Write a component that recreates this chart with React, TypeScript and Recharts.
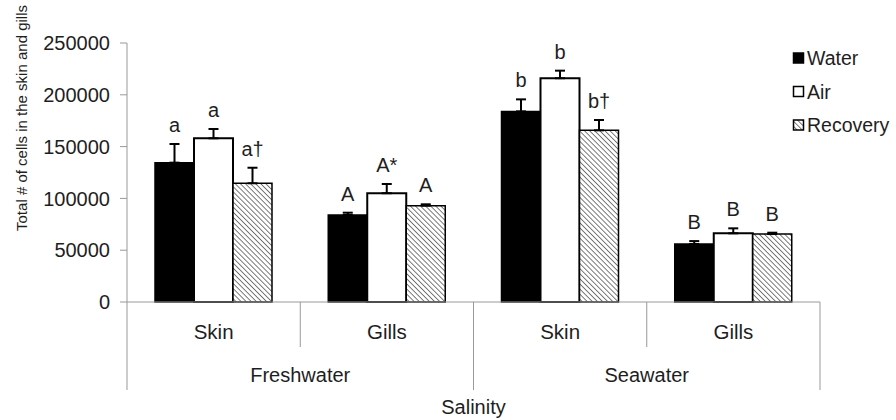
import React from 'react';
import { BarChart, Bar, XAxis, YAxis, ErrorBar, LabelList, Legend } from 'recharts';

// ---- data ----
const tissues = ['Skin', 'Gills', 'Skin', 'Gills'];
const salinities = ['Freshwater', 'Freshwater', 'Seawater', 'Seawater'];
const waterMean = [134500, 84000, 184000, 56000];
const waterSE = [18000, 2200, 11600, 2800];
const airMean = [158000, 105000, 216000, 66300];
const airSE = [9000, 8900, 7300, 4800];
const recoveryMean = [114600, 93000, 165700, 65600];
const recoverySE = [15000, 1300, 10000, 1300];
const waterLetters = ['a', 'A', 'b', 'B'];
const airLetters = ['a', 'A*', 'b', 'B'];
const recoveryLetters = ['a\u2020', 'A', 'b\u2020', 'B'];
const yTicks = [0, 50000, 100000, 150000, 200000, 250000];
const seriesNames = ['Water', 'Air', 'Recovery'];

const data = tissues.map((t, i) => ({
  tissue: t,
  salinity: salinities[i],
  water: waterMean[i],
  waterErr: [0, waterSE[i]],
  waterLetter: waterLetters[i],
  air: airMean[i],
  airErr: [0, airSE[i]],
  airLetter: airLetters[i],
  recovery: recoveryMean[i],
  recoveryErr: [0, recoverySE[i]],
  recoveryLetter: recoveryLetters[i],
}));

// ---- layout ----
const W = 896;
const H = 420;
const M = { top: 43, right: 76, bottom: 0, left: 0 };
const Y_AXIS_W = 127;
const X_AXIS_H = 118;
const PLOT_LEFT = M.left + Y_AXIS_W;
const PLOT_W = W - PLOT_LEFT - M.right;
const PLOT_H = H - M.top - M.bottom - X_AXIS_H;
const AXIS_Y = M.top + PLOT_H;
const BAND = PLOT_W / tissues.length;
const Y_MAX = 250000;

const FONT = '"Liberation Sans", Arial, Helvetica, sans-serif';
const TEXT = '#1e1e1e';
const AXIS = '#999999';

function CategoryTick(props: any) {
  const { x, payload } = props;
  const i: number = props.index ?? payload.index ?? 0;
  const left = x - BAND / 2;
  const right = x + BAND / 2;
  const groupEnd = i % 2 === 1;
  return (
    <g>
      <text x={x} y={AXIS_Y + 37} textAnchor="middle" fontSize={20.5} fill={TEXT} fontFamily={FONT}>
        {payload.value}
      </text>
      <line x1={right} x2={right} y1={AXIS_Y} y2={groupEnd ? AXIS_Y + 88 : AXIS_Y + 45} stroke={AXIS} strokeWidth={1} />
      {i === 0 && <line x1={left} x2={left} y1={AXIS_Y} y2={AXIS_Y + 88} stroke={AXIS} strokeWidth={1} />}
      {!groupEnd && (
        <text x={right} y={AXIS_Y + 79.5} textAnchor="middle" fontSize={20} fill={TEXT} fontFamily={FONT}>
          {salinities[i]}
        </text>
      )}
    </g>
  );
}

const makeLetter = (se: number[]) => (props: any) => {
  const vb = props.viewBox || {};
  const x = props.x ?? vb.x;
  const y = props.y ?? vb.y;
  const w = props.width ?? vb.width;
  const i = props.index ?? 0;
  const errPx = (se[i] / Y_MAX) * PLOT_H;
  return (
    <text key={`l-${i}`} x={x + w / 2} y={y - errPx - 12} textAnchor="middle" fontSize={20} fill={TEXT} fontFamily={FONT}>
      {props.value}
    </text>
  );
};

function LegendBox() {
  const rowY = [18, 51.5, 85];
  return (
    <svg width={108} height={104} style={{ display: 'block', overflow: 'visible' }}>
      <defs>
        <pattern id="hatchLegend" width="3.6" height="3.6" patternUnits="userSpaceOnUse" patternTransform="rotate(-45)">
          <rect width="3.6" height="3.6" fill="#fff" />
          <line x1="0" y1="0" x2="0" y2="3.6" stroke="#222" strokeWidth="1.2" />
        </pattern>
      </defs>
      {seriesNames.map((name, i) => {
        const fill = i === 0 ? '#000' : i === 1 ? '#fff' : 'url(#hatchLegend)';
        return (
          <g key={name}>
            <rect x={5.5} y={rowY[i] - 5} width={10} height={10} fill={fill} stroke="#000" strokeWidth={1.5} />
            <text x={19} y={rowY[i] + 7} fontSize={19.5} fill={TEXT} fontFamily={FONT}>
              {name}
            </text>
          </g>
        );
      })}
    </svg>
  );
}

export default function App() {
  return (
    <div style={{ position: 'absolute', left: 0, top: 0, width: W, height: H, background: '#fff' }}>
      <BarChart width={W} height={H} data={data} margin={M} barGap={0} barCategoryGap={28}>
        <defs>
          <pattern id="hatch" width="3.6" height="3.6" patternUnits="userSpaceOnUse" patternTransform="rotate(-45)">
            <rect width="3.6" height="3.6" fill="#fff" />
            <line x1="0" y1="0" x2="0" y2="3.6" stroke="#222" strokeWidth="1.2" />
          </pattern>
        </defs>
        <XAxis
          dataKey="tissue"
          height={X_AXIS_H}
          interval={0}
          tickLine={false}
          axisLine={{ stroke: AXIS }}
          tick={(p: any) => <CategoryTick {...p} />}
          label={() => (
            <text x={PLOT_LEFT + PLOT_W / 2} y={414} textAnchor="middle" fontSize={20} fill={TEXT} fontFamily={FONT}>
              Salinity
            </text>
          )}
        />
        <YAxis
          width={Y_AXIS_W}
          domain={[0, Y_MAX]}
          ticks={yTicks}
          interval={0}
          tickSize={7}
          tickMargin={10}
          axisLine={{ stroke: AXIS }}
          tickLine={{ stroke: AXIS }}
          tick={{ fontSize: 20, fill: TEXT, fontFamily: FONT }}
          label={() => (
            <text
              x={27}
              y={118}
              transform="rotate(-90 27 118)"
              textAnchor="middle"
              fontSize={15}
              fill={TEXT}
              fontFamily={FONT}
            >
              Total # of cells in the skin and gills
            </text>
          )}
        />
        <Legend
          layout="vertical"
          align="center"
          verticalAlign="middle"
          wrapperStyle={{ left: 788, top: 40, width: 108, height: 104 }}
          content={() => <LegendBox />}
        />
        <Bar dataKey="water" name="Water" fill="#000" stroke="#000" strokeWidth={1.5} isAnimationActive={false}>
          <ErrorBar dataKey="waterErr" width={5} stroke="#000" strokeWidth={2} direction="y" isAnimationActive={false} />
          <LabelList dataKey="waterLetter" content={makeLetter(waterSE)} />
        </Bar>
        <Bar dataKey="air" name="Air" fill="#fff" stroke="#000" strokeWidth={2} isAnimationActive={false}>
          <ErrorBar dataKey="airErr" width={5} stroke="#000" strokeWidth={2} direction="y" isAnimationActive={false} />
          <LabelList dataKey="airLetter" content={makeLetter(airSE)} />
        </Bar>
        <Bar dataKey="recovery" name="Recovery" fill="url(#hatch)" stroke="#000" strokeWidth={1.5} isAnimationActive={false}>
          <ErrorBar dataKey="recoveryErr" width={5} stroke="#000" strokeWidth={2} direction="y" isAnimationActive={false} />
          <LabelList dataKey="recoveryLetter" content={makeLetter(recoverySE)} />
        </Bar>
      </BarChart>
    </div>
  );
}
